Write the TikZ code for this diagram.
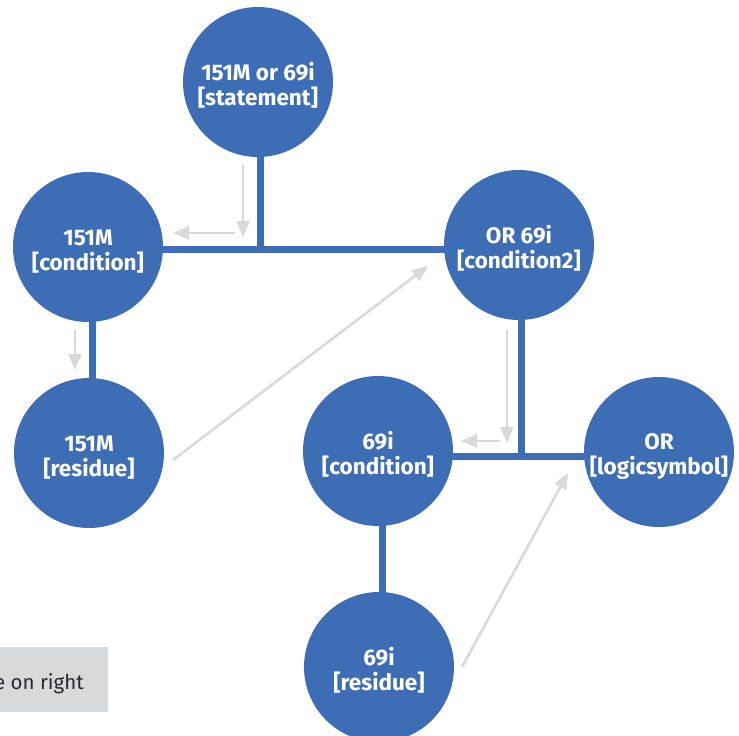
\documentclass[tikz,border=0pt]{standalone}
\usepackage{fontspec}
\setmainfont{Fira Sans}
\usetikzlibrary{arrows.meta,backgrounds}
\definecolor{nodeblue}{RGB}{61,109,181}
\definecolor{arrowgray}{RGB}{217,217,217}
\definecolor{boxgray}{RGB}{216,217,219}
\definecolor{textdark}{RGB}{40,40,45}
\newcommand\liftline{\rule{0pt}{25pt}}
\begin{document}
\begin{tikzpicture}[x=1pt,y=-1pt,
  bubble/.style={circle,fill=nodeblue,minimum size=150pt,inner sep=0pt,
    text=white,font=\fontsize{22.5}{25}\selectfont\bfseries,align=center},
  link/.style={draw=nodeblue,line width=7pt},
  hint/.style={draw=arrowgray,line width=2.6pt,-{Triangle[length=16pt,width=13pt]}}]
\useasboundingbox (0,0) rectangle (739,736);
% nodes
\node[bubble] (st) at (258,82) {\liftline 151M or 69i\\{}[statement]};
\node[bubble] (c1) at (88,247) {\liftline 151M\\{}[condition]};
\node[bubble] (c2) at (519,245) {\liftline OR 69i\\{}[condition2]};
\node[bubble] (r1) at (89,453) {\liftline 151M\\{}[residue]};
\node[bubble] (c3) at (378,451) {\liftline 69i\\{}[condition]};
\node[bubble] (ls) at (659,452) {\liftline OR\\{}[logicsymbol]};
\node[bubble] (r2) at (379,667) {\liftline 69i\\{}[residue]};
% junctions
\coordinate (J1) at (260,249);
\coordinate (J2) at (521,456);
\begin{scope}[on background layer]
\draw[link] (st.center -| J1) -- (J1);
\draw[link] (c1.center |- J1) -- (c2.center |- J1);
\draw[link] ([xshift=4pt]c1.center) -- ([xshift=4pt]c1.center |- r1.center);
\draw[link] (c2.center -| J2) -- (J2);
\draw[link] (c3.center |- J2) -- (ls.center |- J2);
\draw[link] ([xshift=4pt]c3.center) -- ([xshift=4pt]c3.center |- r2.center);
\end{scope}
% gray hint arrows
\coordinate (a1s) at (243,165); \coordinate (a1e) at (243,237);
\coordinate (a2s) at (235,233); \coordinate (a2e) at (173,233);
\coordinate (a3s) at (75,330);  \coordinate (a3e) at (75,370);
\coordinate (a4s) at (173,460); \coordinate (a4e) at (428,266);
\coordinate (a5s) at (507,330); \coordinate (a5e) at (507,443);
\coordinate (a6s) at (500,441); \coordinate (a6e) at (461,441);
\coordinate (a7s) at (462,667); \coordinate (a7e) at (568,473);
\draw[hint] (a1s) -- (a1e);
\draw[hint] (a2s) -- (a2e);
\draw[hint] (a3s) -- (a3e);
\draw[hint] (a4s) -- (a4e);
\draw[hint] (a5s) -- (a5e);
\draw[hint] (a6s) -- (a6e);
\draw[hint] (a7s) -- (a7e);
% legend box (clipped at page edge)
\fill[boxgray] (0,647) rectangle (108,712);
\node[anchor=base east,inner sep=0pt,text=textdark,font=\fontsize{20.5}{24}\selectfont] (legend) at (84,689) {e on right};
\end{tikzpicture}
\end{document}
